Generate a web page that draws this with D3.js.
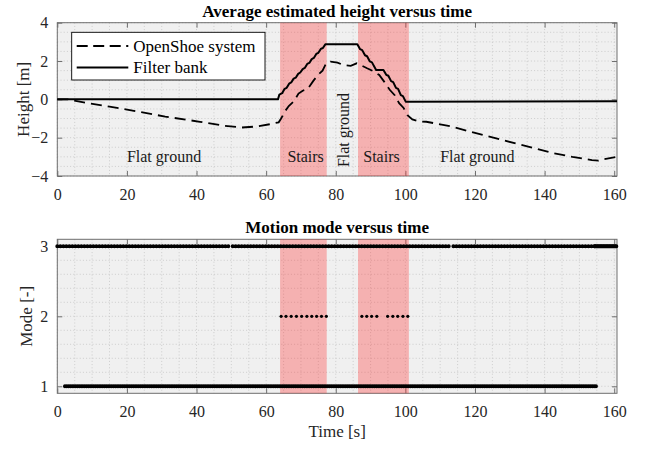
<!DOCTYPE html>
<html><head><meta charset="utf-8">
<script src="https://cdn.jsdelivr.net/npm/d3@7"></script>
<style>
body{margin:0;background:#fff}
svg{display:block}
text{font-family:"Liberation Serif","Times New Roman",serif;}
</style>
</head><body><svg id="c" width="651" height="451"></svg>
<script>
// ---------- data ----------
const xTicks = [0, 20, 40, 60, 80, 100, 120, 140, 160];
const heightTicks = [-4, -2, 0, 2, 4];
const modeTicks = [1, 2, 3];
const stairRegions = [[64.0, 77.4], [86.4, 101.0]];
const regionLabels = [
  {text: "Flat ground", t: 20, h: -3, vertical: false},
  {text: "Stairs", t: 66.1, h: -3, vertical: false},
  {text: "Flat ground", t: 82.2, h: -1.6, vertical: true},
  {text: "Stairs", t: 87.9, h: -3, vertical: false},
  {text: "Flat ground", t: 110, h: -3, vertical: false}
];
const filterBankT = [0, 63.4, 63.8, 64.6, 65.3, 65.9, 66.6, 67.2, 67.9, 68.5, 69.2, 69.8, 70.5, 71.1, 71.8, 72.4, 73.1, 73.7, 74.4, 75.0, 75.7, 76.3, 77.0, 86.2, 87.0, 87.6, 88.4, 89.0, 89.8, 90.4, 91.6, 93.7, 94.5, 95.1, 95.9, 96.5, 97.3, 97.9, 98.7, 99.3, 100.1, 160.8];
const filterBankH = [0, 0, 0.25, 0.32, 0.55, 0.6, 0.82, 0.88, 1.08, 1.13, 1.33, 1.4, 1.58, 1.64, 1.85, 1.9, 2.1, 2.16, 2.37, 2.43, 2.63, 2.68, 2.87, 2.87, 2.62, 2.57, 2.3, 2.25, 1.98, 1.93, 1.53, 1.53, 1.28, 1.23, 0.95, 0.9, 0.6, 0.55, 0.22, 0.17, -0.12, -0.1];
const openShoeT = [0, 3, 8, 15, 22, 31, 41, 48, 53, 57, 61, 63.6, 64.3, 65.5, 66.5, 68.0, 69.3, 70.5, 72.0, 73.5, 75.0, 76.2, 77.3, 78.5, 80.5, 82.0, 84.3, 86.0, 87.0, 89.0, 91.0, 92.5, 94.0, 95.5, 97.0, 98.2, 99.5, 100.6, 102, 104, 106, 110, 113.5, 120, 127.8, 135, 142, 148, 153.6, 155.5, 157, 160.8];
const openShoeH = [0, 0, -0.17, -0.38, -0.6, -0.9, -1.17, -1.38, -1.47, -1.42, -1.3, -1.2, -1.0, -0.6, -0.35, -0.1, 0.3, 0.45, 0.55, 0.95, 1.3, 1.5, 1.9, 1.97, 1.92, 1.8, 1.75, 1.88, 1.8, 1.62, 1.45, 1.27, 0.9, 0.5, 0.2, -0.2, -0.45, -0.82, -1.05, -1.15, -1.17, -1.3, -1.43, -1.75, -2.12, -2.45, -2.79, -3.0, -3.17, -3.2, -3.12, -3.0];
const mode3Segments = [[0, 49.6], [50.4, 113.0], [113.8, 154.4]];
const mode3SolidSegments = [[154.4, 160.9]];
const mode1Segments = [[2.2, 155.0]];
const mode2Times = [64.3, 65.7, 67.2, 68.7, 70.2, 71.7, 73.1, 74.5, 75.9, 77.3, 87.5, 88.9, 90.3, 91.8, 94.9, 96.4, 97.8, 99.3, 100.7];
const legendLabels = ["OpenShoe system", "Filter bank"];

// ---------- layout ----------
const svg = d3.select("#c");
const xL = 57.3, xR = 617;
const x = d3.scaleLinear().domain([0, 160.8]).range([xL, xR]);
const yTop = d3.scaleLinear().domain([-4, 4]).range([176, 22.7]);
const yBot = d3.scaleLinear().domain([0.9, 3.1]).range([393.3, 239.3]);
const axisCol = "#262626";
const boxCol = "#6e6e6e";
const serif = '"Liberation Serif","Times New Roman",serif';

function drawPanel(y, yTicksArr, yMinorStep, title, titleY, ylabel, ylabelX) {
  const [yb, yt] = y.range();
  const g = svg.append("g");
  g.append("rect").attr("x", xL).attr("y", yt).attr("width", xR - xL).attr("height", yb - yt).attr("fill", "#f0f0f0");
  const xg = d3.range(0, 160.81, 5);
  g.selectAll(null).data(xg).enter().append("line")
    .attr("x1", d => x(d)).attr("x2", d => x(d)).attr("y1", yt).attr("y2", yb)
    .attr("stroke", "#c4c4c4").attr("stroke-width", 0.8).attr("stroke-dasharray", "1,2.2");
  const [d0, d1] = y.domain();
  const yg = d3.range(Math.ceil(d0 / yMinorStep - 1e-9) * yMinorStep, d1 + 1e-9, yMinorStep);
  g.selectAll(null).data(yg).enter().append("line")
    .attr("x1", xL).attr("x2", xR).attr("y1", d => y(d)).attr("y2", d => y(d))
    .attr("stroke", "#c4c4c4").attr("stroke-width", 0.8).attr("stroke-dasharray", "1,2.2");
  g.append("rect").attr("x", xL).attr("y", yt).attr("width", xR - xL).attr("height", yb - yt)
    .attr("fill", "none").attr("stroke", boxCol).attr("stroke-width", 1);
  const fmt = d3.format("d");
  const ax = g.append("g").attr("transform", `translate(0,${yb})`)
    .call(d3.axisBottom(x).tickValues(xTicks).tickFormat(fmt).tickSizeInner(-5).tickSizeOuter(0).tickPadding(12.5));
  const axT = g.append("g").attr("transform", `translate(0,${yt})`)
    .call(d3.axisTop(x).tickValues(xTicks).tickSizeInner(-5).tickSizeOuter(0).tickFormat(""));
  const ay = g.append("g").attr("transform", `translate(${xL},0)`)
    .call(d3.axisLeft(y).tickValues(yTicksArr).tickFormat(fmt).tickSizeInner(-5).tickSizeOuter(0).tickPadding(9));
  const ayR = g.append("g").attr("transform", `translate(${xR},0)`)
    .call(d3.axisRight(y).tickValues(yTicksArr).tickSizeInner(-5).tickSizeOuter(0).tickFormat(""));
  [ax, axT, ay, ayR].forEach(a => {
    a.attr("font-family", serif).attr("font-size", 16);
    a.select(".domain").remove();
    a.selectAll(".tick line").attr("stroke", boxCol);
    a.selectAll(".tick text").attr("fill", axisCol);
  });
  svg.append("text").attr("x", (xL + xR) / 2).attr("y", titleY).attr("text-anchor", "middle")
    .style("font-size", "17px").style("font-weight", "bold").attr("fill", "#000").text(title);
  svg.append("text").attr("transform", `translate(${ylabelX},${(yt + yb) / 2}) rotate(-90)`)
    .attr("text-anchor", "middle").style("font-size", "17px").attr("fill", axisCol).text(ylabel);
  return g;
}

// ---------- top panel ----------
const gTop = drawPanel(yTop, heightTicks, 0.5, "Average estimated height versus time", 16.5, "Height [m]", 28.5);
gTop.selectAll(null).data(stairRegions).enter().append("rect")
  .attr("x", d => x(d[0])).attr("width", d => x(d[1]) - x(d[0]))
  .attr("y", yTop(4)).attr("height", yTop(-4) - yTop(4))
  .attr("fill", "rgb(255,50,50)").attr("fill-opacity", 0.33);

regionLabels.forEach(l => {
  const t = gTop.append("text").style("font-size", "16px").attr("fill", "#1a1a1a").text(l.text);
  if (l.vertical) {
    t.attr("transform", `translate(${x(l.t)},${yTop(l.h)}) rotate(-90)`)
      .attr("text-anchor", "middle").attr("dy", "0.35em");
  } else {
    t.attr("x", x(l.t)).attr("y", yTop(l.h)).attr("dy", "0.35em");
  }
});

const lineGen = d3.line().x(d => x(d[0])).y(d => yTop(d[1]));
const fbData = filterBankT.map((t, i) => [t, filterBankH[i]]);
const osData = openShoeT.map((t, i) => [t, openShoeH[i]]);
gTop.append("path").datum(osData).attr("d", lineGen).attr("fill", "none")
  .attr("stroke", "#000").attr("stroke-width", 1.8).attr("stroke-dasharray", "11,6");
gTop.append("path").datum(fbData).attr("d", lineGen).attr("fill", "none")
  .attr("stroke", "#000").attr("stroke-width", 2).attr("stroke-linejoin", "round");

// legend
const lg = gTop.append("g");
lg.append("rect").attr("x", 71.7).attr("y", 32.3).attr("width", 193.3).attr("height", 47.7)
  .attr("fill", "#fff").attr("stroke", "#000").attr("stroke-width", 0.9);
const legendStyles = [{dash: "11,5.5", w: 1.8}, {dash: null, w: 2}];
legendLabels.forEach((lab, i) => {
  const cy = 46 + i * 21.5;
  const ln = lg.append("line").attr("x1", 76.7).attr("x2", 128.3).attr("y1", cy).attr("y2", cy)
    .attr("stroke", "#000").attr("stroke-width", legendStyles[i].w);
  if (legendStyles[i].dash) ln.attr("stroke-dasharray", legendStyles[i].dash);
  lg.append("text").attr("x", 133.3).attr("y", cy + 5.8).style("font-size", "17px").attr("fill", "#000").text(lab);
});

// ---------- bottom panel ----------
const gBot = drawPanel(yBot, modeTicks, 0.2, "Motion mode versus time", 233, "Mode [-]", 31.5);
gBot.selectAll(null).data(stairRegions).enter().append("rect")
  .attr("x", d => x(d[0])).attr("width", d => x(d[1]) - x(d[0]))
  .attr("y", yBot(3.1)).attr("height", yBot(0.9) - yBot(3.1))
  .attr("fill", "rgb(255,50,50)").attr("fill-opacity", 0.33);

function dotRow(segs, mode, w, dash) {
  gBot.selectAll(null).data(segs).enter().append("line")
    .attr("x1", d => x(d[0])).attr("x2", d => x(d[1]))
    .attr("y1", yBot(mode)).attr("y2", yBot(mode))
    .attr("stroke", "#000").attr("stroke-width", w).attr("stroke-linecap", "round")
    .attr("stroke-dasharray", dash);
}
dotRow(mode3Segments, 3, 4, "0,3");
dotRow(mode3SolidSegments, 3, 4, "0,1.2");
dotRow(mode1Segments, 1, 4, "0,1.8");
gBot.selectAll(null).data(mode2Times).enter().append("circle")
  .attr("cx", d => x(d)).attr("cy", yBot(2)).attr("r", 1.6).attr("fill", "#000");

svg.append("text").attr("x", (xL + xR) / 2).attr("y", 437).attr("text-anchor", "middle")
  .style("font-size", "17px").attr("fill", axisCol).text("Time [s]");
</script>
</body></html>
